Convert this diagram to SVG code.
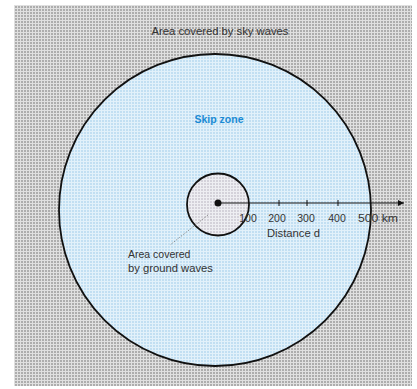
<svg xmlns="http://www.w3.org/2000/svg" width="417" height="389" viewBox="0 0 417 389">
<defs>
<pattern id="pGray" width="3" height="3" patternUnits="userSpaceOnUse">
<rect width="3" height="3" fill="#e0e0e0"/>
<rect width="2" height="2" fill="#adadad"/>
</pattern>
<pattern id="pBlue" width="3" height="3" patternUnits="userSpaceOnUse">
<rect width="3" height="3" fill="#e2f1fa"/>
<rect width="2" height="2" fill="#c2dff2"/>
</pattern>
<pattern id="pPink" width="3" height="3" patternUnits="userSpaceOnUse">
<rect width="3" height="3" fill="#eeeef2"/>
<rect width="2" height="2" fill="#d4d2da"/>
</pattern>
<marker id="arr" viewBox="0 0 10 10" refX="10" refY="5" markerWidth="10" markerHeight="6" markerUnits="userSpaceOnUse" orient="auto">
<path d="M0,0 L10,5 L0,10 z" fill="#111"/>
</marker>
</defs>
<style>
.t{font-family:"Liberation Sans",Arial,sans-serif;font-size:10.5px;fill:#333}
.ln{stroke:#111;fill:none}
</style>
<rect width="417" height="389" fill="#ffffff"/>
<g id="sky-area">
<rect x="14" y="5" width="398" height="381" fill="url(#pGray)"/>
<text class="t" x="220" y="35" text-anchor="middle" textLength="137" lengthAdjust="spacingAndGlyphs">Area covered by sky waves</text>
</g>
<g id="skip-zone">
<circle cx="215" cy="210" r="156" fill="url(#pBlue)" stroke="#111" stroke-width="1.8"/>
<text x="219" y="123" text-anchor="middle" style="font-family:'Liberation Sans',Arial,sans-serif;font-size:10.5px;font-weight:bold;fill:#1a8ad4">Skip zone</text>
</g>
<g id="ground-area">
<circle cx="218" cy="204.5" r="31" fill="url(#pPink)" stroke="#111" stroke-width="1.8"/>
<circle cx="218" cy="203" r="3.5" fill="#111"/>
<text class="t" x="128" y="258">Area covered</text>
<text class="t" x="128" y="272" textLength="85" lengthAdjust="spacingAndGlyphs">by ground waves</text>
</g>
<g id="connectors">
<line class="ln" x1="218" y1="203" x2="404" y2="203" stroke-width="1.2" marker-end="url(#arr)"/>
<g stroke="#111" stroke-width="1">
<line x1="279" y1="200" x2="279" y2="206"/>
<line x1="307" y1="200" x2="307" y2="206"/>
<line x1="338" y1="200" x2="338" y2="206"/>
</g>
<line x1="208" y1="215" x2="170" y2="245" stroke="#777" stroke-width="0.8" stroke-dasharray="1.5,1.5"/>
</g>
<g id="axis-labels">
<text class="t" x="248" y="222" text-anchor="middle">100</text>
<text class="t" x="277" y="222" text-anchor="middle">200</text>
<text class="t" x="306" y="222" text-anchor="middle">300</text>
<text class="t" x="337" y="222" text-anchor="middle">400</text>
<text class="t" x="358" y="222" textLength="40" lengthAdjust="spacingAndGlyphs">500 km</text>
<text class="t" x="267" y="237" textLength="53" lengthAdjust="spacingAndGlyphs">Distance d</text>
</g>
</svg>
